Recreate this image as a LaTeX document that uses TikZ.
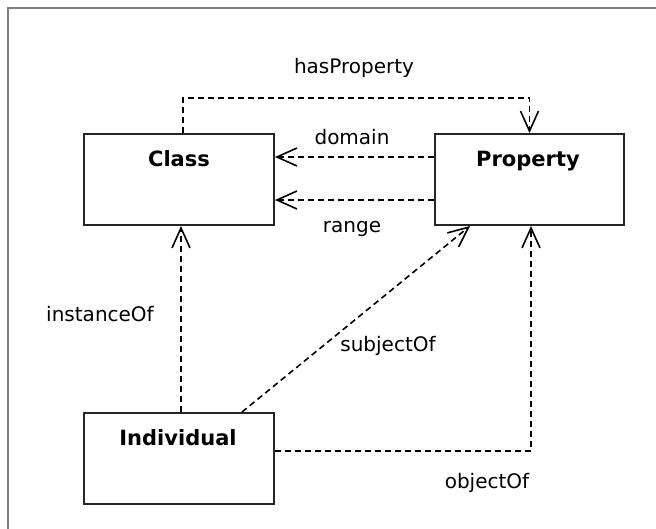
\documentclass[tikz,border=0pt]{standalone}
\usepackage{fontspec}
\setmainfont{DejaVu Sans}
\usetikzlibrary{arrows.meta,calc}
\begin{document}
\begin{tikzpicture}[x=1pt,y=-1pt,
  box/.style={draw=black!85, line width=2pt, rectangle, inner sep=0pt,
              minimum height=91pt},
  title/.style={font=\fontsize{21}{25}\selectfont\bfseries, anchor=base, inner sep=0pt},
  lbl/.style={font=\fontsize{20}{24}\selectfont, anchor=base, inner sep=0pt},
  rel/.style={line width=1.6pt, dash pattern=on 6pt off 4pt,
              -{Straight Barb[length=20pt,width=18pt,line width=1.6pt]}},
]
\useasboundingbox (0,0) rectangle (656,529);
\fill[white] (0,0) rectangle (656,529);
% window frame
\draw[gray, line width=2pt] (8,529) -- (8,8) -- (656,8);

% classes
\node[box, minimum width=190pt] (cls)  at (179,179.5) {};
\node[box, minimum width=189pt] (prop) at (529.5,179.5) {};
\node[box, minimum width=190pt] (ind)  at (179,458.5) {};

\node[title] (clsT)  at (179,167) {Class};
\node[title] (propT) at (528,167) {Property};
\node[title] (indT)  at (178,445) {Individual};

% relations
\coordinate (hp) at (356,98);
\draw[rel] ($(cls.north)+(4,0)$) |- (hp) -| (prop.north);
\draw[rel] ($(prop.west)+(0,-22.5)$) -- ($(cls.east)+(0,-22.5)$);
\draw[rel] ($(prop.west)+(0,20.5)$) -- ($(cls.east)+(0,20.5)$);
\draw[rel] ($(ind.north)+(2,0)$) -- ($(cls.south)+(2,0)$);
\draw[rel] ($(ind.north)+(63,0)$) -- ($(prop.south)+(-59.5,0)$);
\draw[rel] ($(ind.east)+(0,-7.5)$) -| ($(prop.south)+(1.5,0)$);

% relation names
\node[lbl] (hpL)  at (354,74)  {hasProperty};
\node[lbl] (domL) at (352,145) {domain};
\node[lbl] (rngL) at (352,233) {range};
\node[lbl] (insL) at (100,322) {instanceOf};
\node[lbl] (subL) at (388,352) {subjectOf};
\node[lbl] (objL) at (487,488) {objectOf};
\end{tikzpicture}
\end{document}
